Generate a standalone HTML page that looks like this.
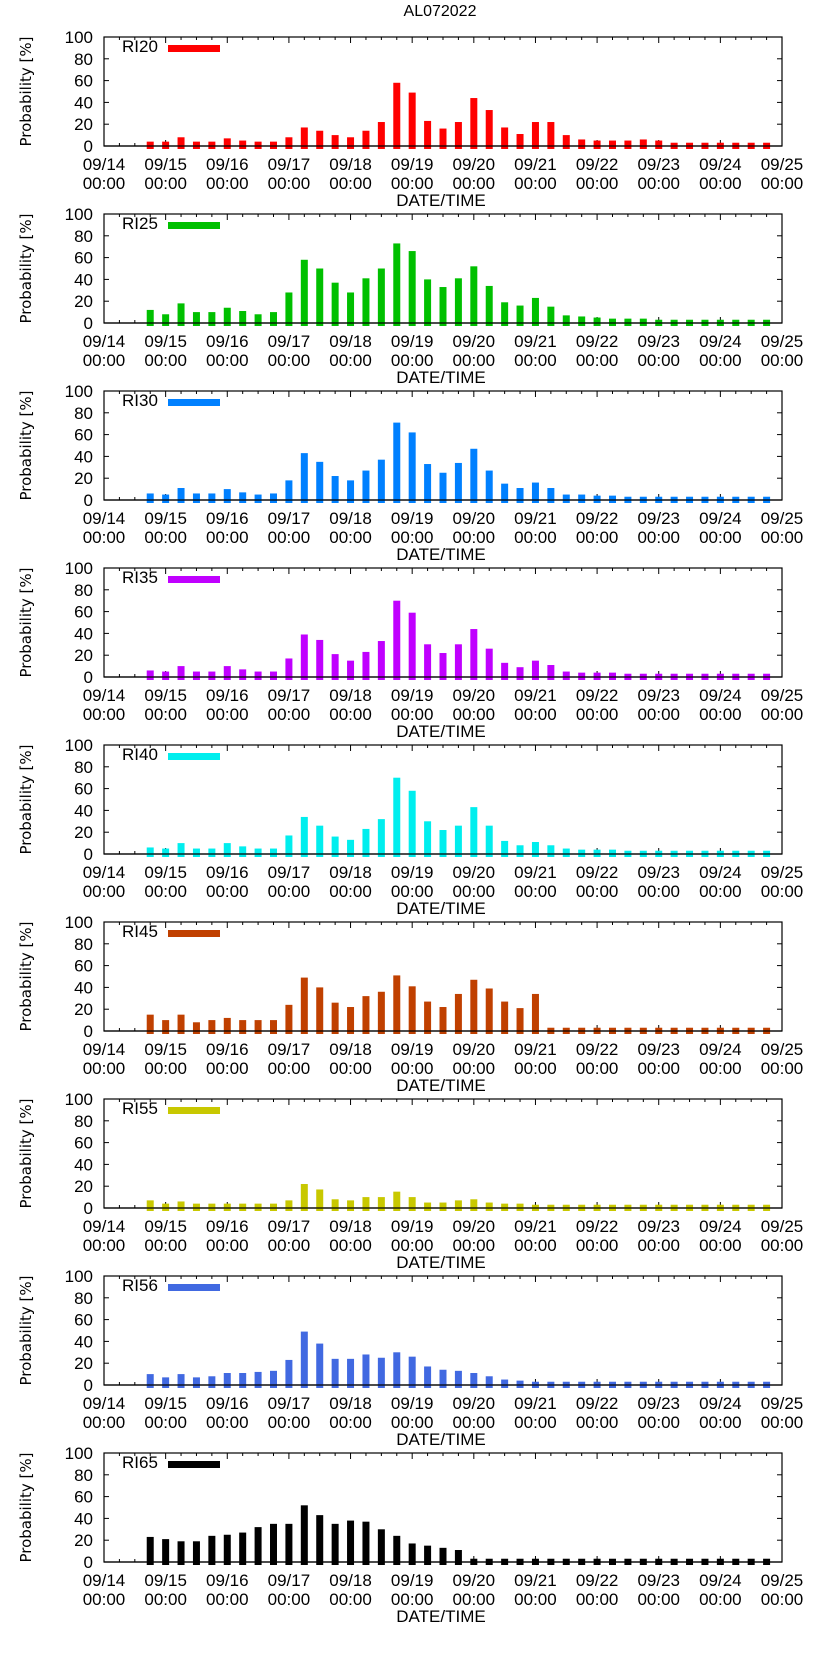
<!DOCTYPE html>
<html><head><meta charset="utf-8">
<style>
html,body{margin:0;padding:0;background:#fff;}
svg text{font-family:"Liberation Sans Narrow","Liberation Sans",sans-serif;}
</style></head>
<body>
<svg id="chart" width="822" height="1653" viewBox="0 0 822 1653" xmlns="http://www.w3.org/2000/svg">
<text x="440" y="16" font-size="16" text-anchor="middle">AL072022</text>
</svg>
<script>
const seriesNames = ["RI20","RI25","RI30","RI35","RI40","RI45","RI55","RI56","RI65"];
const seriesColors = ["#ff0000","#00c000","#0080ff","#c000ff","#00eeee","#c04000","#c8c800","#4169e1","#000000"];
const dayLabels = ["09/14","09/15","09/16","09/17","09/18","09/19","09/20","09/21","09/22","09/23","09/24","09/25"];
const yTicks = [0,20,40,60,80,100];
const ri20 = [4,4,8,4,4,7,5,4,4,8,17,14,10,8,14,22,58,49,23,16,22,44,33,17,11,22,22,10,6,5,5,5,6,5,3,3,3,3,3,3,3];
const ri25 = [12,8,18,10,10,14,11,8,10,28,58,50,37,28,41,50,73,66,40,33,41,52,34,19,16,23,15,7,6,5,4,4,4,3,3,3,3,3,3,3,3];
const ri30 = [6,5,11,6,6,10,7,5,6,18,43,35,22,18,27,37,71,62,33,25,34,47,27,15,11,16,11,5,5,4,4,3,3,3,3,3,3,3,3,3,3];
const ri35 = [6,5,10,5,5,10,7,5,5,17,39,34,21,15,23,33,70,59,30,22,30,44,26,13,9,15,11,5,4,4,4,3,3,3,3,3,3,3,3,3,3];
const ri40 = [6,5,10,5,5,10,7,5,5,17,34,26,16,13,23,32,70,58,30,22,26,43,26,12,8,11,8,5,4,4,4,3,3,3,3,3,3,3,3,3,3];
const ri45 = [15,10,15,8,10,12,10,10,10,24,49,40,26,22,32,36,51,41,27,22,34,47,39,27,21,34,3,3,3,3,3,3,3,3,3,3,3,3,3,3,3];
const ri55 = [7,4,6,4,4,4,4,4,4,7,22,17,8,7,10,10,15,10,5,5,7,8,5,4,4,3,3,3,3,3,3,3,3,3,3,3,3,3,3,3,3];
const ri56 = [10,7,10,7,8,11,11,12,13,23,49,38,24,24,28,25,30,26,17,14,13,11,8,5,4,3,3,3,3,3,3,3,3,3,3,3,3,3,3,3,3];
const ri65 = [23,21,19,19,24,25,27,32,35,35,52,43,35,38,37,30,24,17,15,13,11,3,3,3,3,3,3,3,3,3,3,3,3,3,3,3,3,3,3,3,3];
const allSeries = [ri20,ri25,ri30,ri35,ri40,ri45,ri55,ri56,ri65];
const firstBarHour = 18;

const NS="http://www.w3.org/2000/svg";
const svg=document.getElementById('chart');
const X0=104, X1=782, PITCH=177, TOP0=37, H=109, NDAYS=11;
function xScale(hours){return X0+(X1-X0)*hours/(NDAYS*24);}
function mk(tag,attrs,parent){const e=document.createElementNS(NS,tag);for(const k in attrs)e.setAttribute(k,attrs[k]);(parent||svg).appendChild(e);return e;}

allSeries.forEach((vals,k)=>{
  const top=TOP0+PITCH*k, bot=top+H;
  const yScale=v=>bot-H*v/100;
  const g=mk('g',{});
  
  
  // frame
  const f=mk('rect',{x:X0,y:top,width:X1-X0,height:H,fill:'none',stroke:'#000','stroke-width':1.2},g);
  
  
  // y ticks
  yTicks.forEach(t=>{
    const y=yScale(t);
    mk('line',{x1:X0,x2:X0+5,y1:y,y2:y,stroke:'#000'},g);
    mk('line',{x1:X1,x2:X1-5,y1:y,y2:y,stroke:'#000'},g);
    const tl=mk('text',{x:93,y:y+6,'font-size':17,'text-anchor':'end'},g);
    tl.textContent=t;
    
    
  });
  // x ticks
  for(let h=0;h<=NDAYS*24;h+=6){
    const x=xScale(h), len=(h%24===0)?6:3;
    mk('line',{x1:x,x2:x,y1:bot,y2:bot-len,stroke:'#000'},g);
    mk('line',{x1:x,x2:x,y1:top,y2:top+len,stroke:'#000'},g);
  }
  // bars (drawn over ticks)
  vals.forEach((v,i)=>{
    const cx=xScale(firstBarHour+6*i);
    const r=mk('rect',{x:cx-3.5,y:yScale(v),width:7,height:bot+3-yScale(v),fill:seriesColors[k]},g);
    
    
  });
  // zero line over bars
  mk('line',{x1:X0,x2:X1,y1:bot,y2:bot,stroke:'#000','stroke-width':1.2},g);
  dayLabels.forEach((d,i)=>{
    const x=xScale(24*i);
    const t1=mk('text',{x:x,y:bot+24,'font-size':17,'text-anchor':'middle'},g);
    t1.textContent=d;
    
    
    const t2=mk('text',{x:x,y:bot+43,'font-size':17,'text-anchor':'middle'},g);
    t2.textContent='00:00';
    
    
  });
  const xt=mk('text',{x:441,y:bot+60,'font-size':17,'text-anchor':'middle'},g);
  xt.textContent='DATE/TIME';
  
  
  const yt=mk('text',{x:0,y:0,'font-size':15,'text-anchor':'middle',transform:'translate(31,'+(top+H/2)+') rotate(-90)',style:'font-family:"DejaVu Sans",sans-serif'},g);
  yt.textContent='Probability [%]';
  
  
  // legend
  const lt=mk('text',{x:122,y:top+15,'font-size':17},g);
  lt.textContent=seriesNames[k];
  
  
  const ls=mk('rect',{x:168,y:top+8,width:52,height:7,fill:seriesColors[k]},g);
  
  
});
</script>
</body></html>
